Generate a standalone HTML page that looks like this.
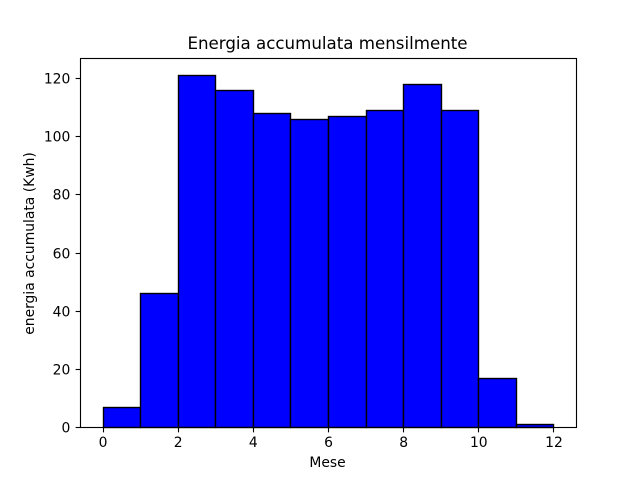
<!DOCTYPE html>
<html>
<head>
<meta charset="utf-8">
<title>Energia accumulata mensilmente</title>
<style>
html,body{margin:0;padding:0;background:#fff;width:640px;height:480px;overflow:hidden}
svg{display:block}
text{font-family:"DejaVu Sans",sans-serif;fill:#000}
</style>
</head>
<body>
<svg id="chart" xmlns="http://www.w3.org/2000/svg" width="640" height="480" viewBox="0 0 640 480"></svg>
<script>
const binEdges = [0, 1, 2, 3, 4, 5, 6, 7, 8, 9, 10, 11, 12];
const binCounts = [7, 46, 121, 116, 108, 106, 107, 109, 118, 109, 17, 1];
const xTickValues = [0, 2, 4, 6, 8, 10, 12];
const yTickValues = [0, 20, 40, 60, 80, 100, 120];
const chartTitle = "Energia accumulata mensilmente";
const xAxisTitle = "Mese";
const yAxisTitle = "energia accumulata (Kwh)";

const svg = document.getElementById('chart');
const NS = 'http://www.w3.org/2000/svg';
const left = 80, right = 576, top_ = 57.6, bottom = 427.2;

const xMinData = Math.min(...binEdges), xMaxData = Math.max(...binEdges);
const xPad = (xMaxData - xMinData) * 0.05;
const yMaxView = Math.max(...binCounts) * 1.05;

function xScale(v) {
  return left + (v - (xMinData - xPad)) / ((xMaxData + xPad) - (xMinData - xPad)) * (right - left);
}
function yScale(v) {
  return bottom - v / yMaxView * (bottom - top_);
}
function snap(p) {
  return Math.floor(p + 0.5) + 0.5;
}
function make(tag, attrs) {
  const el = document.createElementNS(NS, tag);
  for (const k in attrs) el.setAttribute(k, attrs[k]);
  svg.appendChild(el);
  return el;
}

const bg = make('rect', {x: 0, y: 0, width: 640, height: 480, fill: '#fff'});



const frameL = snap(left), frameR = snap(right), frameT = snap(top_), frameB = snap(bottom);

binCounts.forEach(function (count, i) {
  const x0 = snap(xScale(binEdges[i])), x1 = snap(xScale(binEdges[i + 1])), y = snap(yScale(count));
  const bar = make('rect', {x: x0, y: y, width: x1 - x0, height: frameB - y, fill: '#0000ff', stroke: '#000', 'stroke-width': 1.39});
  
  
});

const frame = make('rect', {x: frameL, y: frameT, width: frameR - frameL, height: frameB - frameT, fill: 'none', stroke: '#000', 'stroke-width': 1.11});



xTickValues.forEach(function (v) {
  const x = snap(xScale(v));
  const tick = make('line', {x1: x, x2: x, y1: frameB, y2: frameB + 4.86, stroke: '#000', 'stroke-width': 1.11});
  
  
  const label = make('text', {x: xScale(v) + 0.5, y: 447, 'text-anchor': 'middle', 'font-size': 13.89});
  label.textContent = String(v);
  
  
});

yTickValues.forEach(function (v) {
  const y = snap(yScale(v));
  const tick = make('line', {x1: frameL - 4.86, x2: frameL, y1: y, y2: y, stroke: '#000', 'stroke-width': 1.11});
  
  
  const label = make('text', {x: 70.3, y: y + 5, 'text-anchor': 'end', 'font-size': 13.89});
  label.textContent = String(v);
  
  
});

const title = make('text', {x: 327.5, y: 49, 'text-anchor': 'middle', 'font-size': 16.67});
title.textContent = chartTitle;



const xTitle = make('text', {x: 327.5, y: 467, 'text-anchor': 'middle', 'font-size': 13.89});
xTitle.textContent = xAxisTitle;



const yTitle = make('text', {x: 0, y: 0, 'text-anchor': 'middle', 'font-size': 13.89, transform: 'translate(34 243.5) rotate(-90)'});
yTitle.textContent = yAxisTitle;


</script>
</body>
</html>
